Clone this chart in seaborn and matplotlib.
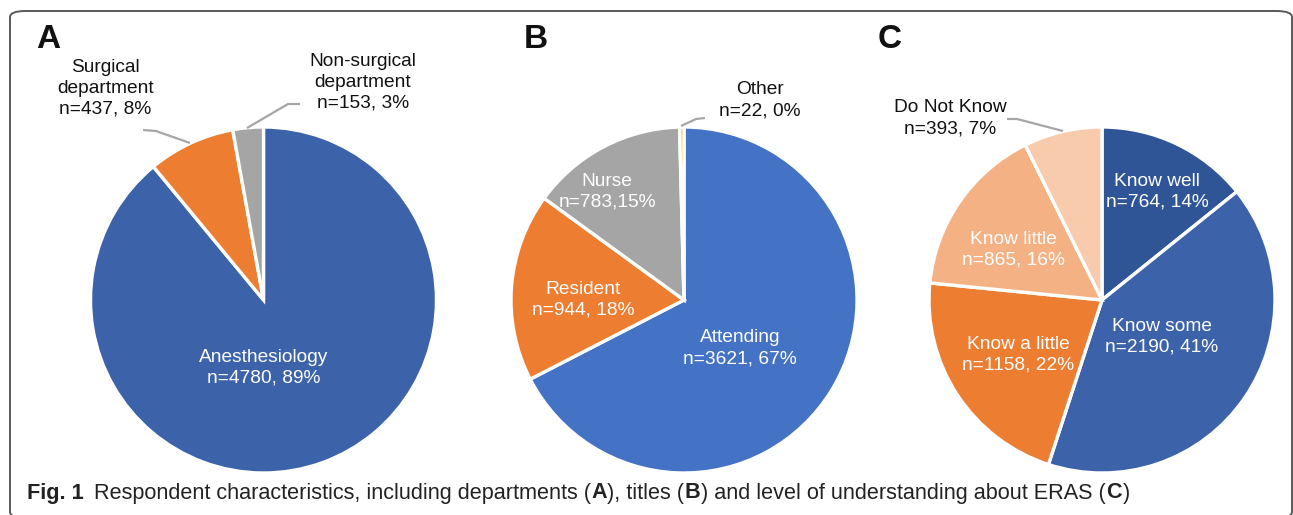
import numpy as np
import matplotlib.pyplot as plt
import seaborn as sns
from matplotlib.patches import FancyBboxPatch

# --- data ---
dept_labels = ["Anesthesiology", "Surgical\ndepartment", "Non-surgical\ndepartment"]
dept_counts = [4780, 437, 153]
dept_pcts = [89, 8, 3]

title_labels = ["Attending", "Resident", "Nurse", "Other"]
title_counts = [3621, 944, 783, 22]
title_pcts = [67, 18, 15, 0]

eras_labels = ["Know well", "Know some", "Know a little", "Know little", "Do Not Know"]
eras_counts = [764, 2190, 1158, 865, 393]
eras_pcts = [14, 41, 22, 16, 7]

sns.set_theme(style="white")
plt.rcParams['font.family'] = ['Liberation Sans', 'DejaVu Sans']

W, H, DPI = 1293, 515, 100
fig = plt.figure(figsize=(W / DPI, H / DPI), dpi=DPI)

# rounded frame around the figure panel
frame = FancyBboxPatch((10 / W, 1 - 518 / H), 1282 / W, 507 / H,
                       boxstyle="round,pad=0,rounding_size=0.012",
                       transform=fig.transFigure, fill=False,
                       edgecolor='#5a5a5a', linewidth=1.4, clip_on=False)
fig.patches.append(frame)

R = 173


def make_pie(cx, cy, counts, colors):
    ax = fig.add_axes([(cx - R) / W, 1 - (cy + R) / H, 2 * R / W, 2 * R / H])
    ax.pie(counts, colors=colors, startangle=90, counterclock=False, radius=1,
           wedgeprops=dict(edgecolor='white', linewidth=2.4))
    ax.set_xlim(-1, 1)
    ax.set_ylim(-1, 1)
    ax.set_aspect('equal')
    ax.axis('off')
    return ax


def leader(ax, cx, cy, pts):
    xs = [(p[0] - cx) / R for p in pts]
    ys = [(cy - p[1]) / R for p in pts]
    ax.plot(xs, ys, color='#a6a6a6', lw=1.6, clip_on=False, solid_capstyle='butt')


def labels(ax, names, counts, pcts, pos, colors, seps=None):
    for i, (nm, c, p) in enumerate(zip(names, counts, pcts)):
        sep = seps[i] if seps else ", "
        ax.text(pos[i][0], pos[i][1], f"{nm}\nn={c}{sep}{p}%", ha='center', va='center',
                color=colors[i], fontsize=13.8, linespacing=1.3, clip_on=False)


# --- A: departments ---
cxA, cyA = 263.5, 300
axA = make_pie(cxA, cyA, dept_counts, ['#3c63aa', '#ed7d31', '#a5a5a5'])
labels(axA, dept_labels, dept_counts, dept_pcts,
       [(0, -0.39), (-0.915, 1.225), (0.575, 1.26)],
       ['white', '#111111', '#111111'])
leader(axA, cxA, cyA, [(143, 130), (156, 131), (190, 143)])
leader(axA, cxA, cyA, [(300, 104), (288, 104), (247, 128)])

# --- B: titles ---
cxB, cyB = 684, 300
axB = make_pie(cxB, cyB, title_counts, ['#4472c4', '#ed7d31', '#a5a5a5', '#ffc000'])
labels(axB, title_labels, title_counts, title_pcts,
       [(0.325, -0.28), (-0.585, 0.0), (-0.445, 0.625), (0.44, 1.155)],
       ['white', 'white', 'white', '#111111'], seps=[", ", ", ", ",", ", "])
leader(axB, cxB, cyB, [(705, 118), (696, 119), (681, 126)])

# --- C: understanding of ERAS ---
cxC, cyC = 1102, 300
axC = make_pie(cxC, cyC, eras_counts, ['#2f5597', '#3c63aa', '#ed7d31', '#f4b183', '#f8cbad'])
labels(axC, eras_labels, eras_counts, eras_pcts,
       [(0.318, 0.624), (0.347, -0.214), (-0.486, -0.318), (-0.514, 0.289), (-0.879, 1.05)],
       ['white', 'white', 'white', 'white', '#111111'])
leader(axC, cxC, cyC, [(1007, 119), (1017, 119), (1063, 131)])

# panel letters
for letter, x in [("A", 48), ("B", 536), ("C", 890)]:
    fig.text(x / W, 1 - 40 / H, letter, fontsize=24, fontweight='bold',
             ha='center', va='center', color='#111111')

# caption with mixed bold pieces
cap_font = ['Liberation Sans Narrow', 'Liberation Sans', 'DejaVu Sans']
pieces = [("Fig. 1", True), ("Respondent characteristics, including departments (", False),
          ("A", True), ("), titles (", False), ("B", True),
          (") and level of understanding about ERAS (", False), ("C", True), (")", False)]
renderer = fig.canvas.get_renderer()
x = 27
for i, (txt, bold) in enumerate(pieces):
    t = fig.text(x / W, 1 - 493 / H, txt, fontsize=15.6, family=cap_font,
                 fontweight='bold' if bold else 'normal', ha='left', va='center',
                 color='#222222')
    bb = t.get_window_extent(renderer)
    x += bb.width + (10 if i == 0 else 0.5)

fig.savefig("out.png", dpi=DPI)
